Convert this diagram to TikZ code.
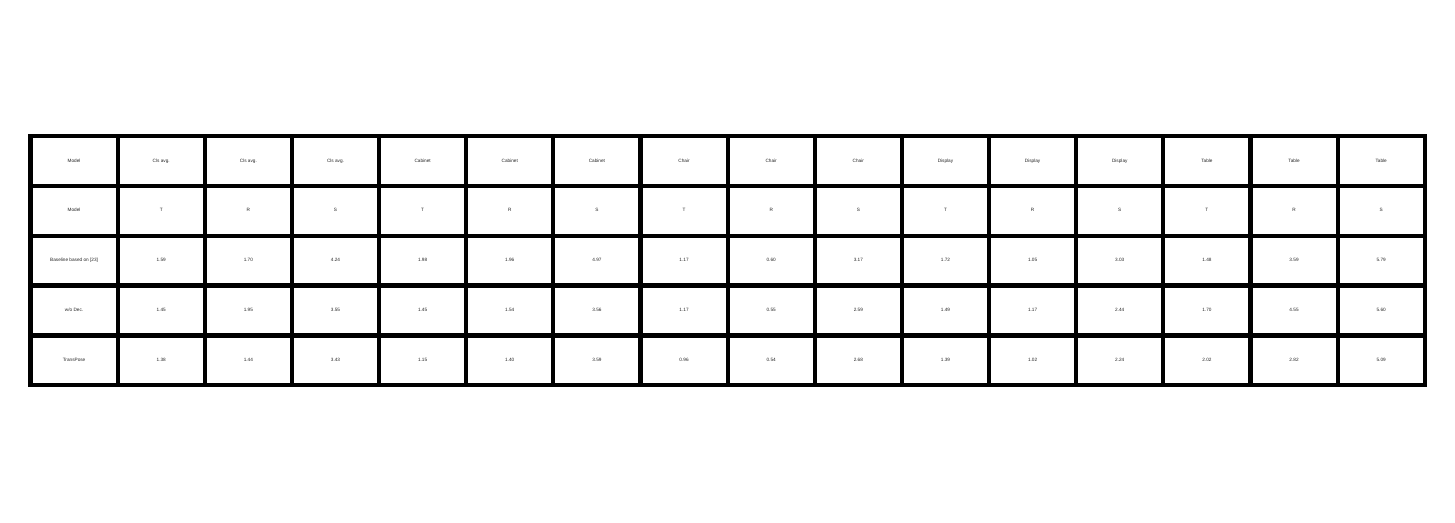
\documentclass[tikz,border=0pt]{standalone}
\usepackage{fontspec}
\setmainfont{Liberation Sans}
\begin{document}
\begin{tikzpicture}[x=1pt,y=-1pt,
  cell/.style={inner sep=0pt,text height=3.4pt,text depth=1pt,text=black!85,font=\fontsize{4.7}{5.6}\selectfont},
  gridline/.style={line width=4.2pt,line cap=rect}]
\useasboundingbox (0,0) rectangle (1455,522);
\fill[white] (0,0) rectangle (1455,522);
\def\xo{30.5}\def\yo{136}\def\cw{87.14}\def\rh{49.86}
\foreach \t [count=\c from 0] in {Model,Cls avg.,Cls avg.,Cls avg.,Cabinet,Cabinet,Cabinet,Chair,Chair,Chair,Display,Display,Display,Table,Table,Table}
  \node[cell] (c-0-\c) at ({\xo+\cw*(\c+0.5)},{\yo+\rh*0.5}) {\t};
\foreach \t [count=\c from 0] in {Model,T,R,S,T,R,S,T,R,S,T,R,S,T,R,S}
  \node[cell] (c-1-\c) at ({\xo+\cw*(\c+0.5)},{\yo+\rh*1.5}) {\t};
\foreach \t [count=\c from 0] in {Baseline based on [23],1.59,1.70,4.24,1.98,1.96,4.97,1.17,0.60,3.17,1.72,1.05,3.03,1.48,3.59,5.79}
  \node[cell] (c-2-\c) at ({\xo+\cw*(\c+0.5)},{\yo+\rh*2.5}) {\t};
\foreach \t [count=\c from 0] in {w/o Dec.,1.45,1.95,3.55,1.45,1.54,3.56,1.17,0.55,2.59,1.49,1.17,2.44,1.70,4.55,5.60}
  \node[cell] (c-3-\c) at ({\xo+\cw*(\c+0.5)},{\yo+\rh*3.5}) {\t};
\foreach \t [count=\c from 0] in {TransPose,1.38,1.44,3.43,1.15,1.40,3.59,0.96,0.54,2.68,1.39,1.02,2.24,2.02,2.82,5.09}
  \node[cell] (c-4-\c) at ({\xo+\cw*(\c+0.5)},{\yo+\rh*4.5}) {\t};
% grid
\foreach \c in {0,...,16}{
  \draw[gridline] ({\xo+\cw*\c},\yo) -- ({\xo+\cw*\c},{\yo+5*\rh});
}
\foreach \r in {0,...,5}{
  \draw[gridline] (\xo,{\yo+\rh*\r}) -- ({\xo+16*\cw},{\yo+\rh*\r});
}
\end{tikzpicture}
\end{document}
